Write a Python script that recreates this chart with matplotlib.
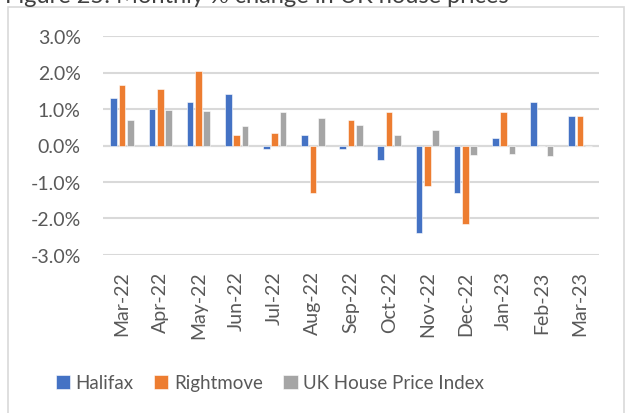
import numpy as np
import matplotlib
matplotlib.use("Agg")
import matplotlib.pyplot as plt
from matplotlib.patches import Rectangle
from matplotlib.ticker import FuncFormatter

months = ["Mar-22", "Apr-22", "May-22", "Jun-22", "Jul-22", "Aug-22", "Sep-22",
          "Oct-22", "Nov-22", "Dec-22", "Jan-23", "Feb-23", "Mar-23"]
halifax = [1.3, 1.0, 1.2, 1.4, -0.1, 0.3, -0.1, -0.4, -2.4, -1.3, 0.2, 1.2, 0.8]
rightmove = [1.65, 1.55, 2.05, 0.3, 0.35, -1.3, 0.7, 0.92, -1.12, -2.15, 0.92, 0.0, 0.8]
ukhpi = [0.71, 0.97, 0.94, 0.54, 0.92, 0.74, 0.56, 0.3, 0.43, -0.27, -0.23, -0.29, 0.0]

series = [("Halifax", halifax, "#4472C4"),
          ("Rightmove", rightmove, "#ED7D31"),
          ("UK House Price Index", ukhpi, "#A5A5A5")]

txt = "#595959"
grid = "#D9D9D9"
plt.rcParams["font.family"] = ["Lato", "DejaVu Sans"]

fig = plt.figure(figsize=(6.26, 4.14), dpi=100)
W, H = 626, 414
ax = fig.add_axes([103 / W, 1 - 256 / H, 496 / W, 219 / H])

x = np.arange(len(months))
bw = 0.175
step = 0.218
for i, (name, vals, col) in enumerate(series):
    ax.bar(x + (i - 1) * step, vals, bw, color=col, label=name,
           edgecolor="white", linewidth=0.4, zorder=3)

ax.set_xlim(-0.5, len(months) - 0.5)
ax.set_ylim(-3, 3)
ax.set_yticks(np.arange(-3, 3.01, 1))
ax.yaxis.set_major_formatter(FuncFormatter(lambda v, p: f"{v:.1f}%"))
ax.grid(axis="y", color=grid, linewidth=1.5, zorder=0)
ax.axhline(0, color=grid, linewidth=1.5, zorder=1)
for s in ax.spines.values():
    s.set_visible(False)
ax.set_xticks(x)
ax.set_xticklabels(months, rotation=90)
ax.tick_params(axis="x", length=0, pad=11, labelsize=14, labelcolor=txt)
ax.tick_params(axis="y", length=0, pad=16, labelsize=14, labelcolor=txt)

# chart border (bottom edge runs off the image)
fig.patches.append(Rectangle((8 / W, -0.05), 616 / W, 1 - 8 / H + 0.05,
                             transform=fig.transFigure, fill=False,
                             edgecolor=grid, linewidth=1.2))

fig.text(5 / W, 1 - 3 / H, "Figure 25: Monthly % change in UK house prices",
         fontsize=17, color="#404040", va="baseline", ha="left")

fig.legend(loc="center", bbox_to_anchor=(270 / W, 1 - 384 / H), ncol=3,
           frameon=False, fontsize=13.5, labelcolor=txt, handlelength=0.75,
           handleheight=0.75, handletextpad=0.3, columnspacing=1.1)

fig.savefig("out.png", dpi=100)
